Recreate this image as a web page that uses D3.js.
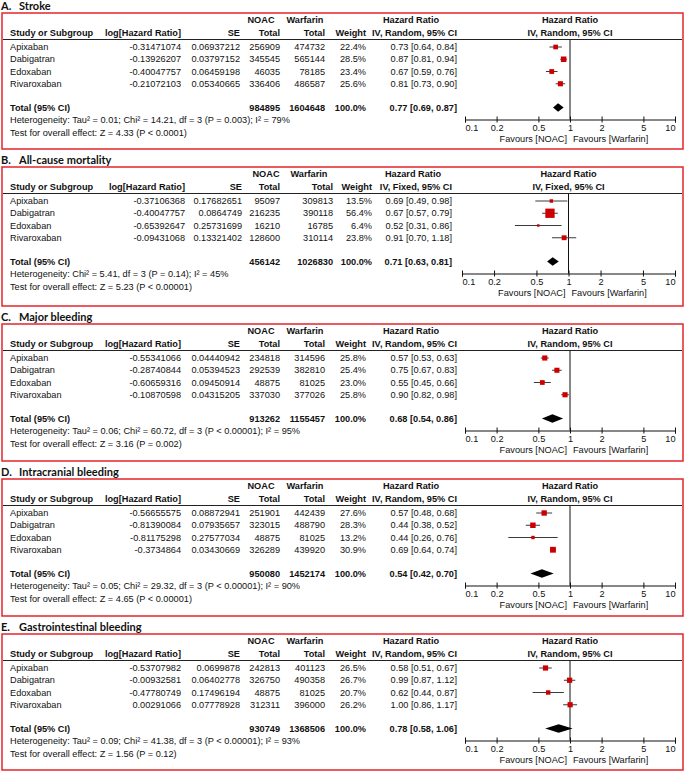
<!DOCTYPE html>
<html>
<head>
<meta charset="utf-8">
<script src="https://cdn.jsdelivr.net/npm/d3@7"></script>
<style>
  body { margin: 0; background: #fff; }
  svg text { font-family: "Liberation Sans", Arial, sans-serif; font-size: 9.2px; fill: #111; }
  svg text.b { font-weight: bold; }
  svg text.title { font-family: Lato, "Open Sans", sans-serif; font-size: 11px; font-weight: bold; }
</style>
</head>
<body>
<script>
// panel titles
var panelLetters = ["A.", "B.", "C.", "D.", "E."];
var panelTitles = ["Stroke", "All-cause mortality", "Major bleeding", "Intracranial bleeding", "Gastrointestinal bleeding"];
var models = ["IV, Random, 95% CI", "IV, Fixed, 95% CI", "IV, Random, 95% CI", "IV, Random, 95% CI", "IV, Random, 95% CI"];

// studies
var studies = ["Apixaban", "Dabigatran", "Edoxaban", "Rivaroxaban"];

// log hazard ratio per panel
var logHR = [
  [-0.31471074, -0.13926207, -0.40047757, -0.21072103],
  [-0.37106368, -0.40047757, -0.65392647, -0.09431068],
  [-0.55341066, -0.28740844, -0.60659316, -0.10870598],
  [-0.56655575, -0.81390084, -0.81175298, -0.3734864],
  [-0.53707982, -0.00932581, -0.47780749, 0.00291066]
];
// standard errors
var seVals = [
  [0.06937212, 0.03797152, 0.06459198, 0.05340665],
  [0.17682651, 0.0864749, 0.25731699, 0.13321402],
  [0.04440942, 0.05394523, 0.09450914, 0.04315205],
  [0.08872941, 0.07935657, 0.27577034, 0.03430669],
  [0.0699878, 0.06402778, 0.17496194, 0.07778928]
];
var noacTotal = [
  [256909, 345545, 46035, 336406],
  [95097, 216235, 16210, 128600],
  [234818, 292539, 48875, 337030],
  [251901, 323015, 48875, 326289],
  [242813, 326750, 48875, 312311]
];
var warfarinTotal = [
  [474732, 565144, 78185, 486587],
  [309813, 390118, 16785, 310114],
  [314596, 382810, 81025, 377026],
  [442439, 488790, 81025, 439920],
  [401123, 490358, 81025, 396000]
];
var weights = [
  [22.4, 28.5, 23.4, 25.6],
  [13.5, 56.4, 6.4, 23.8],
  [25.8, 25.4, 23.0, 25.8],
  [27.6, 28.3, 13.2, 30.9],
  [26.5, 26.7, 20.7, 26.2]
];

// pooled results
var totalNoac = [984895, 456142, 913262, 950080, 930749];
var totalWarfarin = [1604648, 1026830, 1155457, 1452174, 1368506];
var totalHR = [0.77, 0.71, 0.68, 0.54, 0.78];
var totalLo = [0.69, 0.63, 0.54, 0.42, 0.58];
var totalHi = [0.87, 0.81, 0.86, 0.70, 1.06];

var heterogeneity = [
  "Heterogeneity: Tau\u00b2 = 0.01; Chi\u00b2 = 14.21, df = 3 (P = 0.003); I\u00b2 = 79%",
  "Heterogeneity: Chi\u00b2 = 5.41, df = 3 (P = 0.14); I\u00b2 = 45%",
  "Heterogeneity: Tau\u00b2 = 0.06; Chi\u00b2 = 60.72, df = 3 (P < 0.00001); I\u00b2 = 95%",
  "Heterogeneity: Tau\u00b2 = 0.05; Chi\u00b2 = 29.32, df = 3 (P < 0.00001); I\u00b2 = 90%",
  "Heterogeneity: Tau\u00b2 = 0.09; Chi\u00b2 = 41.38, df = 3 (P < 0.00001); I\u00b2 = 93%"
];
var overallTest = [
  "Test for overall effect: Z = 4.33 (P < 0.0001)",
  "Test for overall effect: Z = 5.23 (P < 0.00001)",
  "Test for overall effect: Z = 3.16 (P = 0.002)",
  "Test for overall effect: Z = 4.65 (P < 0.00001)",
  "Test for overall effect: Z = 1.56 (P = 0.12)"
];

var tickValues = [0.1, 0.2, 0.5, 1, 2, 5, 10];

// 画布
var width = 685, height = 771;
var svg = d3.select("body").append("svg")
    .attr("width", width)
    .attr("height", height);

// layout of each panel
var boxTop = [13, 167, 324, 479, 634];
var boxH = [136, 139, 137, 137, 136];
var colsA = {logHR: 181, se: 240, noac: 280, noacHead: 261, warf: 325, warfHead: 305,
             weight: 366, hr: 457, hrHead: 411, plotL: 465, plotR: 675};
var colsB = {logHR: 185, se: 242, noac: 280, noacHead: 266, warf: 333, warfHead: 309,
             weight: 372, hr: 452, hrHead: 413, plotL: 462, plotR: 675};

var sizeScale = d3.scaleLinear().domain([0, 60]).range([1.6, 9.8]);
var fmt2 = d3.format(".2f");

function txt(g, x, y, s, anchor, bold) {
  return g.append("text")
    .attr("x", x).attr("y", y).attr("dy", "0.35em")
    .attr("text-anchor", anchor || "start")
    .attr("class", bold ? "b" : null)
    .text(s);
}

panelTitles.forEach(function(title, p) {
  var c = p === 1 ? colsB : colsA;
  var top = boxTop[p];
  var g = svg.append("g").attr("transform", "translate(0," + top + ")");

  // title
  g.append("text").attr("class", "title").attr("x", 1).attr("y", -6.5).attr("dy", "0.35em").text(panelLetters[p]);
  g.append("text").attr("class", "title").attr("x", 19).attr("y", -6.5).attr("dy", "0.35em").text(title);

  // red frame
  g.append("rect")
    .attr("x", 2).attr("y", 0)
    .attr("width", 681).attr("height", boxH[p])
    .attr("fill", "none").attr("stroke", "#e3242b").attr("stroke-width", 1.5);

  var x = d3.scaleLog().domain([0.1, 10]).range([c.plotL, c.plotR]);

  // headers
  var h1 = 7, h2 = 20;
  txt(g, c.noacHead, h1, "NOAC", "middle", true);
  txt(g, c.warfHead, h1, "Warfarin", "middle", true);
  txt(g, c.hrHead, h1, "Hazard Ratio", "middle", true);
  txt(g, x(1), h1, "Hazard Ratio", "middle", true);
  txt(g, 10, h2, "Study or Subgroup", "start", true);
  txt(g, c.logHR, h2, "log[Hazard Ratio]", "end", true);
  txt(g, c.se, h2, "SE", "end", true);
  txt(g, c.noac, h2, "Total", "end", true);
  txt(g, c.warf, h2, "Total", "end", true);
  txt(g, c.weight, h2, "Weight", "end", true);
  txt(g, c.hr, h2, models[p], "end", true);
  txt(g, x(1), h2, models[p], "middle", true);

  // separator
  g.append("line")
    .attr("x1", 3).attr("x2", 682).attr("y1", 26.5).attr("y2", 26.5)
    .attr("stroke", "#222").attr("stroke-width", 1);

  var rowY = function(i) { return 34 + i * 12.25; };
  var totY = 94.5, axisY = 106.5;

  // line of no effect
  g.append("line")
    .attr("x1", x(1)).attr("x2", x(1)).attr("y1", 26.5).attr("y2", axisY)
    .attr("stroke", "#111").attr("stroke-width", 1);

  var rows = studies.map(function(s, i) {
    var l = logHR[p][i], se = seVals[p][i];
    return {name: s, l: l, se: se, n1: noacTotal[p][i], n2: warfarinTotal[p][i], w: weights[p][i],
            hr: Math.exp(l), lo: Math.exp(l - 1.96 * se), hi: Math.exp(l + 1.96 * se)};
  });

  rows.forEach(function(d, i) {
    var y = rowY(i);
    txt(g, 10, y, d.name);
    txt(g, c.logHR, y, String(d.l), "end");
    txt(g, c.se, y, String(d.se), "end");
    txt(g, c.noac, y, d.n1, "end");
    txt(g, c.warf, y, d.n2, "end");
    txt(g, c.weight, y, d.w.toFixed(1) + "%", "end");
    txt(g, c.hr, y, fmt2(d.hr) + " [" + fmt2(d.lo) + ", " + fmt2(d.hi) + "]", "end");
  });

  // confidence intervals and squares
  g.selectAll(".ci").data(rows).enter().append("line")
    .attr("x1", function(d) { return x(d.lo); })
    .attr("x2", function(d) { return x(d.hi); })
    .attr("y1", function(d, i) { return rowY(i); })
    .attr("y2", function(d, i) { return rowY(i); })
    .attr("stroke", "#3a3a3a").attr("stroke-width", 1);
  g.selectAll(".sq").data(rows).enter().append("rect")
    .attr("x", function(d) { return x(d.hr) - sizeScale(d.w) / 2; })
    .attr("y", function(d, i) { return rowY(i) - sizeScale(d.w) / 2; })
    .attr("width", function(d) { return sizeScale(d.w); })
    .attr("height", function(d) { return sizeScale(d.w); })
    .attr("fill", "#cc0000");

  // total row
  txt(g, 10, totY, "Total (95% CI)", "start", true);
  txt(g, c.noac, totY, totalNoac[p], "end", true);
  txt(g, c.warf, totY, totalWarfarin[p], "end", true);
  txt(g, c.weight, totY, "100.0%", "end", true);
  txt(g, c.hr, totY, fmt2(totalHR[p]) + " [" + fmt2(totalLo[p]) + ", " + fmt2(totalHi[p]) + "]", "end", true);

  g.append("path")
    .attr("d", "M" + x(totalLo[p]) + "," + totY +
               "L" + x(totalHR[p]) + "," + (totY - 4.2) +
               "L" + x(totalHi[p]) + "," + totY +
               "L" + x(totalHR[p]) + "," + (totY + 4.2) + "Z")
    .attr("fill", "#000");

  txt(g, 10, 107, heterogeneity[p]);
  txt(g, 10, 119.5, overallTest[p]);

  // x axis
  var axis = d3.axisBottom(x).tickValues(tickValues).tickSizeOuter(0).tickSize(3)
    .tickFormat(function(d) { return String(d); });
  var ax = g.append("g").attr("transform", "translate(0," + axisY + ")").call(axis);
  ax.select(".domain").attr("stroke", "#111");
  ax.selectAll(".tick line").attr("y1", -3).attr("y2", 3).attr("stroke", "#111");
  ax.selectAll(".tick text")
    .attr("y", 8.5).attr("dy", "0.35em")
    .attr("text-anchor", function(d) { return d === 0.1 ? "start" : d === 10 ? "end" : "middle"; });

  txt(g, x(1) - 3, 126, "Favours [NOAC]", "end");
  txt(g, x(1) + 3, 126, "Favours [Warfarin]", "start");
});
</script>
</body>
</html>
